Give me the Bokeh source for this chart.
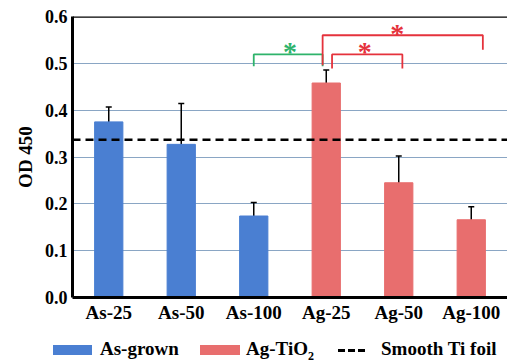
from bokeh.plotting import figure
from bokeh.layouts import column
from bokeh.models import (ColumnDataSource, Span, Whisker, Div,
                          FixedTicker, PrintfTickFormatter, Range1d)
from bokeh.core.properties import value
from bokeh.embed import file_html
from bokeh.resources import INLINE

categories = ["As-25", "As-50", "As-100", "Ag-25", "Ag-50", "Ag-100"]
od_values = [0.375, 0.327, 0.174, 0.458, 0.245, 0.166]
err_values = [0.032, 0.087, 0.029, 0.028, 0.057, 0.028]
group = ["As-grown", "As-grown", "As-grown", "Ag-TiO₂", "Ag-TiO₂", "Ag-TiO₂"]
smooth_ti = 0.337
y_ticks = [0.0, 0.1, 0.2, 0.3, 0.4, 0.5, 0.6]

# significance brackets
sig_left = ["As-100", "Ag-25", "Ag-25"]
sig_left_off = [0.0, 0.08, -0.05]
sig_right = ["Ag-25", "Ag-50", "Ag-100"]
sig_right_off = [-0.05, 0.05, 0.16]
sig_top = [0.519, 0.519, 0.560]
sig_lbot = [0.494, 0.489, 0.496]
sig_rbot = [0.494, 0.489, 0.529]
sig_color = ["#2eb36b", "#e5323c", "#e5323c"]
star_x = [("As-100", 0.5), ("Ag-25", 0.53), ("Ag-25", 0.98)]
star_y = [0.527, 0.527, 0.566]

BLUE = "#4a7fd2"
RED = "#e86e6e"
colors = [BLUE if g == "As-grown" else RED for g in group]

src = ColumnDataSource(dict(x=categories, top=od_values, color=colors,
                            upper=[v + e for v, e in zip(od_values, err_values)],
                            lower=[v - e for v, e in zip(od_values, err_values)]))

p = figure(x_range=categories, y_range=Range1d(0, 0.6),
           width=507, height=330, output_backend="svg",
           toolbar_location=None, min_border_left=72, min_border_right=0,
           min_border_top=16, min_border_bottom=33)
p.outline_line_color = None

p.vbar(x="x", top="top", width=0.39, color="color", source=src)

w = Whisker(base="x", upper="upper", lower="lower", source=src,
            line_color="black", line_width=1.5)
w.upper_head.size = 6
w.lower_head.size = 6
w.upper_head.line_width = 1.5
w.lower_head.line_width = 1.5
p.add_layout(w)

p.add_layout(Span(location=smooth_ti, dimension="width", line_color="black",
                  line_width=2.5, line_dash="8 5"))
p.add_layout(Span(location=0.6, dimension="width", line_color="black",
                  line_width=2.5))

for i in range(len(sig_left)):
    xl = (sig_left[i], sig_left_off[i])
    xr = (sig_right[i], sig_right_off[i])
    p.line(x=[xl, xl, xr, xr],
           y=[sig_lbot[i], sig_top[i], sig_top[i], sig_rbot[i]],
           line_color=sig_color[i], line_width=1.8)

p.text(x=star_x, y=star_y, text=["*"] * 3, text_color=sig_color,
       text_font=value("Liberation Serif"), text_font_size="28px",
       text_font_style="bold", text_align="center", text_baseline="middle",
       y_offset=1)

p.xgrid.visible = False
p.ygrid.grid_line_color = "#8aa6c4"
p.ygrid.grid_line_width = 1
p.ygrid.ticker = FixedTicker(ticks=y_ticks)

p.yaxis.ticker = FixedTicker(ticks=y_ticks)
p.yaxis.formatter = PrintfTickFormatter(format="%.1f")
for ax in (p.xaxis[0], p.yaxis[0]):
    ax.axis_line_width = 3
    ax.axis_line_color = "black"
    ax.major_tick_line_color = None
    ax.minor_tick_line_color = None
    ax.major_tick_out = 0
    ax.major_tick_in = 0
    ax.minor_tick_out = 0
    ax.major_label_text_font = "Liberation Serif"
    ax.major_label_text_font_style = "bold"
    ax.major_label_text_color = "black"
p.yaxis.major_label_text_font_size = "18px"
p.xaxis.major_label_text_font_size = "19px"
p.yaxis.axis_label = "OD 450"
p.yaxis.axis_label_text_font = "Liberation Serif"
p.yaxis.axis_label_text_font_style = "bold"
p.yaxis.axis_label_text_font_size = "19px"
p.yaxis.axis_label_text_color = "black"
p.yaxis.axis_label_standoff = 6
p.yaxis.major_label_standoff = 5
p.xaxis.major_label_standoff = 4

# legend strip (real HTML text, with a true subscript)
legend_labels = ["As-grown", 'Ag-TiO<sub style="font-size:12px">2</sub>', "Smooth Ti foil"]
font = ("font-family:'Liberation Serif',serif;font-weight:bold;"
        "font-size:19px;color:black;")
def box(left, top, w_, h_, c):
    return (f'<span style="position:absolute;left:{left}px;top:{top}px;width:{w_}px;'
            f'height:{h_}px;background:{c};"></span>')
def label(left, txt):
    return (f'<span style="position:absolute;left:{left}px;top:8px;line-height:22px;'
            f'white-space:nowrap;{font}">{txt}</span>')
html = ('<div style="position:relative;width:507px;height:34px;">'
        + box(53, 15, 39, 10, BLUE) + label(100, legend_labels[0])
        + box(200, 15, 40, 10, RED) + label(246, legend_labels[1])
        + box(338, 19, 7, 3, "black") + box(348, 19, 7, 3, "black")
        + box(358, 19, 7, 3, "black") + label(381, legend_labels[2])
        + "</div>")
lg = Div(text=html, width=507, height=34, margin=(0, 0, 0, 0))

layout = column(p, lg, spacing=0)
open("out.html", "w").write(file_html(layout, INLINE))
